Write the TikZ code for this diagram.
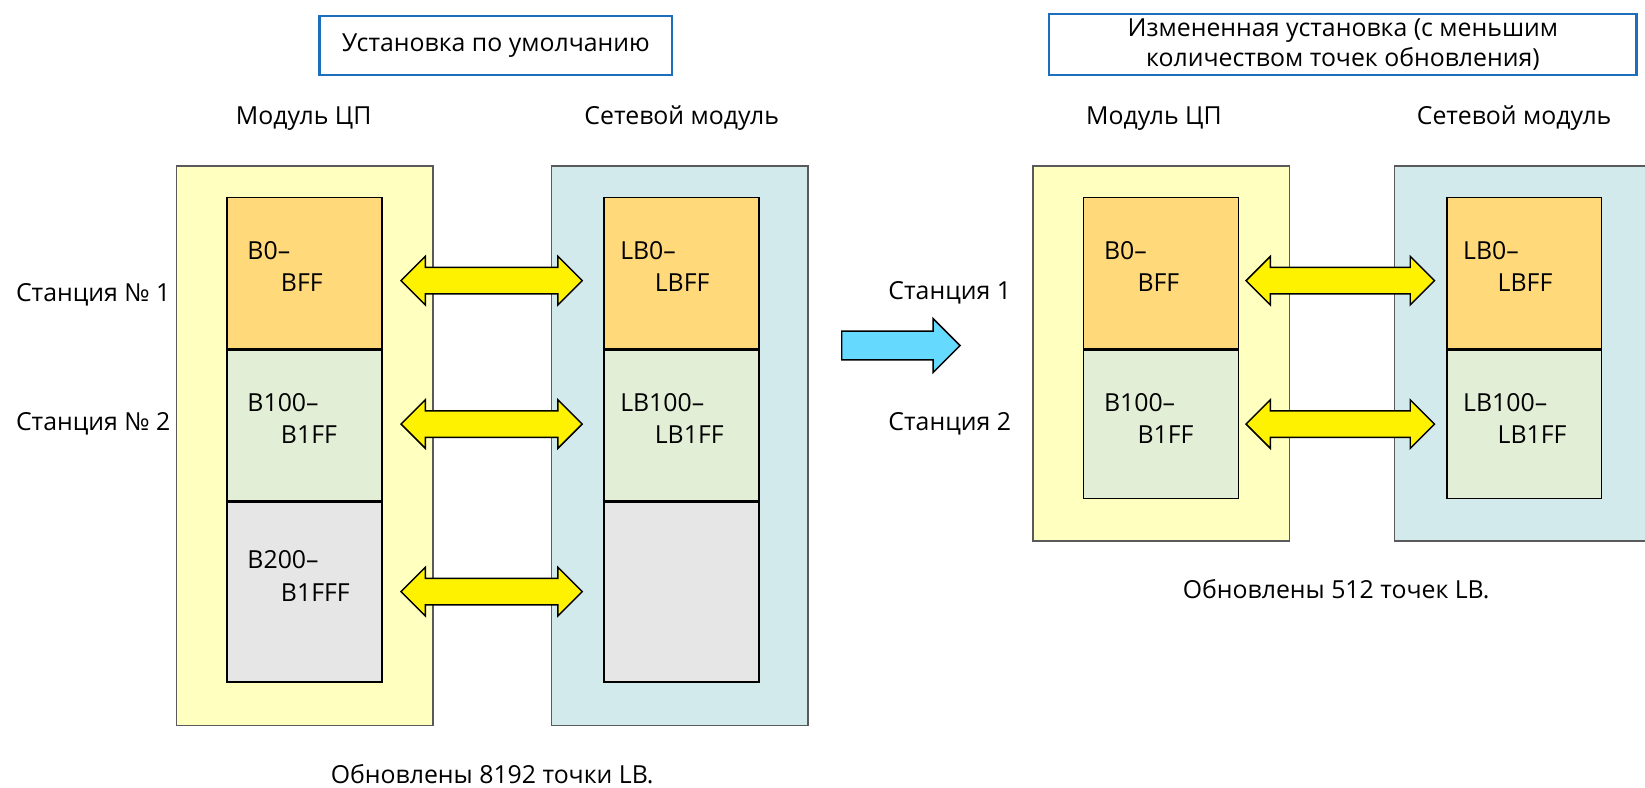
\documentclass[tikz,border=0pt]{standalone}
\usepackage{fontspec}
\setmainfont{Open Sans}
\usetikzlibrary{shapes.arrows,calc}
\definecolor{cpuyellow}{RGB}{255,255,192}
\definecolor{netblue}{RGB}{211,234,236}
\definecolor{stone}{RGB}{255,217,122}
\definecolor{sttwo}{RGB}{226,239,214}
\definecolor{stgray}{RGB}{230,230,230}
\definecolor{framegray}{RGB}{90,90,90}
\definecolor{titleblue}{RGB}{30,110,190}
\definecolor{flowblue}{RGB}{102,217,255}

\tikzset{
    txt/.style={font=\fontsize{13.5}{16.5}\selectfont, inner sep=0pt},
    titlebox/.style={txt, draw=titleblue, line width=1.2pt, align=center},
    modbox/.style={draw=framegray, line width=0.8pt, anchor=north west, minimum width=4.9cm},
    cell/.style={draw=black, line width=0.8pt, anchor=north west, minimum width=2.96cm},
    addr/.style={txt, font=\fontsize{13.5}{17.5}\selectfont, anchor=north west, align=left},
    swap/.style={double arrow, draw=black, fill=yellow, line width=0.8pt, minimum width=0.9cm,
        double arrow head extend=0.21cm, inner xsep=0pt, inner ysep=0.24cm},
}

\begin{document}
\begin{tikzpicture}[x=0.02cm, y=-0.02cm]
    \useasboundingbox (0,0) rectangle (1571,752);

    % default setting
    \node[titlebox, minimum width=6.74cm, minimum height=1.14cm] (deftitle) at (473.5,43.5) {Установка по умолчанию};
    \node[txt] (cpuhead) at (290,113) {Модуль ЦП};
    \node[txt] (nethead) at (651,113) {Сетевой модуль};

    \node[modbox, fill=cpuyellow, minimum height=10.68cm] (cpu) at (168,158) {};
    \node[modbox, fill=netblue, minimum height=10.68cm] (net) at (526,158) {};

    \node[cell, fill=stone, minimum height=2.88cm] (b1) at (216,188) {};
    \node[cell, fill=sttwo, minimum height=2.88cm] (b2) at (b1.south west) {};
    \node[cell, fill=stgray, minimum height=3.44cm] (b3) at (b2.south west) {};
    \node[cell, fill=stone, minimum height=2.88cm] (lb1) at (576,188) {};
    \node[cell, fill=sttwo, minimum height=2.88cm] (lb2) at (lb1.south west) {};
    \node[cell, fill=stgray, minimum height=3.44cm] (lb3) at (lb2.south west) {};

    \node[addr] (b1t) at ($(b1.north west)+(20,42)$) {B0–\\\hspace*{0.64cm}BFF};
    \node[addr] (b2t) at ($(b2.north west)+(20,42)$) {B100–\\\hspace*{0.64cm}B1FF};
    \node[addr] (b3t) at ($(b3.north west)+(20,47)$) {B200–\\\hspace*{0.64cm}B1FFF};
    \node[addr] (lb1t) at ($(lb1.north west)+(16,42)$) {LB0–\\\hspace*{0.66cm}LBFF};
    \node[addr] (lb2t) at ($(lb2.north west)+(16,42)$) {LB100–\\\hspace*{0.66cm}LB1FF};

    \node[txt, anchor=east] (st1) at (163,282) {Станция № 1};
    \node[txt, anchor=east] (st2) at (163,405) {Станция № 2};

    \node[swap, minimum height=3.46cm] (sw1) at (469.5,268) {};
    \node[swap, minimum height=3.46cm] (sw2) at (469.5,405) {};
    \node[swap, minimum height=3.46cm] (sw3) at (469.5,565) {};

    \node[txt] (defnote) at (470,739) {Обновлены 8192 точки LB.};

    % arrow between the two settings
    \node[single arrow, draw=black, fill=flowblue, line width=0.8pt, minimum width=1cm,
        single arrow head extend=0.24cm, minimum height=2.26cm, inner xsep=0pt, inner ysep=0.26cm] (go) at (853.5,330) {};

    % changed setting
    \node[titlebox, minimum width=11.22cm, minimum height=1.18cm] (newtitle) at (1282.5,42.5)
        {Измененная установка (с меньшим\\количеством точек обновления)};
    \node[txt] (cpuhead2) at (1102,113) {Модуль ЦП};
    \node[txt] (nethead2) at (1446,113) {Сетевой модуль};

    \node[modbox, fill=cpuyellow, minimum height=7.16cm] (cpu2) at (986,158) {};
    \node[modbox, fill=netblue, minimum height=7.16cm] (net2) at (1331,158) {};

    \node[cell, fill=stone, minimum height=2.88cm] (c1) at (1034,188) {};
    \node[cell, fill=sttwo, minimum height=2.84cm] (c2) at (c1.south west) {};
    \node[cell, fill=stone, minimum height=2.88cm] (lc1) at (1381,188) {};
    \node[cell, fill=sttwo, minimum height=2.84cm] (lc2) at (lc1.south west) {};

    \node[addr] (c1t) at ($(c1.north west)+(20,42)$) {B0–\\\hspace*{0.64cm}BFF};
    \node[addr] (c2t) at ($(c2.north west)+(20,42)$) {B100–\\\hspace*{0.64cm}B1FF};
    \node[addr] (lc1t) at ($(lc1.north west)+(16,42)$) {LB0–\\\hspace*{0.66cm}LBFF};
    \node[addr] (lc2t) at ($(lc2.north west)+(16,42)$) {LB100–\\\hspace*{0.66cm}LB1FF};

    \node[txt] (st1b) at (907,280) {Станция 1};
    \node[txt] (st2b) at (907,405) {Станция 2};

    \node[swap, minimum height=3.6cm] (sw4) at (1280,268) {};
    \node[swap, minimum height=3.6cm] (sw5) at (1280,405) {};

    \node[txt] (newnote) at (1276,563) {Обновлены 512 точек LB.};
\end{tikzpicture}
\end{document}
